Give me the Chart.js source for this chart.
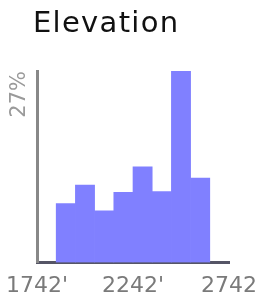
<!DOCTYPE html>
<html>
<head>
<meta charset="utf-8">
<script src="https://cdn.jsdelivr.net/npm/chart.js@4/dist/chart.umd.min.js"></script>
<style>
html, body { margin:0; padding:0; background:#fff; }
</style>
</head>
<body>
<canvas id="chart1" width="260" height="297"></canvas>
<script>
var titulo = "Elevation";
var binStart = [1842, 1942, 2042, 2142, 2242, 2342, 2442, 2542];
var binWidth = 100;
var percent = [8.3, 10.9, 7.3, 9.9, 13.5, 10.0, 27, 11.9];
var xTicks = [1742, 2242, 2742];
var xLabels = ["1742'", "2242'", "2742"];
var yTicks = [27];

// wider title spacing, only for the title block
var tituloPlugin = {
	id: "tituloEspaciado",
	beforeDraw: function (chart) {
		var tb = chart.titleBlock;
		if (!tb || tb._espaciado) return;
		var orig = tb.draw;
		tb.draw = function () {
			var ctx = this.ctx;
			ctx.save();
			ctx.letterSpacing = "1.3px";
			ctx.translate(-4, 0);
			orig.apply(this, arguments);
			ctx.restore();
		};
		tb._espaciado = true;
	}
};

function init(){
	var puntos = [];
	for (var i = 0; i < binStart.length; i++) {
		puntos.push({ x: binStart[i] + binWidth / 2, y: percent[i] });
	}

	var datos = {
		type: "bar",
		data: {
			datasets: [{
				data: puntos,
				backgroundColor: "#8080ff",
				borderWidth: 0,
				barPercentage: 1,
				categoryPercentage: 1
			}]
		},
		options: {
			responsive: false,
			animation: false,
			layout: { padding: { left: 0, right: 31, top: 0, bottom: 0 } },
			plugins: {
				legend: { display: false },
				tooltip: { enabled: false },
				title: {
					display: true,
					text: titulo,
					align: "start",
					fullSize: false,
					color: "#111",
					font: { family: "DejaVu Sans", size: 29, weight: "normal", lineHeight: 1.2 },
					padding: { top: 7.5, bottom: 28.7 }
				}
			},
			scales: {
				x: {
					type: "linear",
					min: xTicks[0],
					max: xTicks[xTicks.length - 1],
					offset: false,
					z: 1,
					grid: { display: false, drawTicks: false, offset: false },
					border: { display: true, color: "#555566", width: 3 },
					afterBuildTicks: function (s) {
						s.ticks = xTicks.map(function (v) { return { value: v }; });
					},
					afterFit: function (s) {
						s.height = 34.5;
						s.paddingLeft = 0;
						s.paddingRight = 0;
					},
					ticks: {
						padding: 11,
						maxRotation: 0,
						color: "#7a7a7a",
						font: { family: "DejaVu Sans", size: 22 },
						callback: function (v, idx) { return xLabels[idx]; }
					}
				},
				y: {
					min: 0,
					max: yTicks[0],
					grid: { display: false, drawTicks: false },
					border: { display: true, color: "#888888", width: 3 },
					afterBuildTicks: function (s) {
						s.ticks = yTicks.map(function (v) { return { value: v }; });
					},
					afterFit: function (s) {
						s.width = 37;
						s.paddingTop = 0;
						s.paddingBottom = 0;
					},
					ticks: {
						padding: 17,
						minRotation: 90,
						maxRotation: 90,
						color: "#9a9a9a",
						font: { family: "DejaVu Sans", size: 21 },
						callback: function (v) { return v + "%"; }
					}
				}
			}
		},
		plugins: [tituloPlugin]
	};

	var canvas = document.getElementById("chart1").getContext("2d");
	window.grafico = new Chart(canvas, datos);
}

init();
</script>
</body>
</html>
